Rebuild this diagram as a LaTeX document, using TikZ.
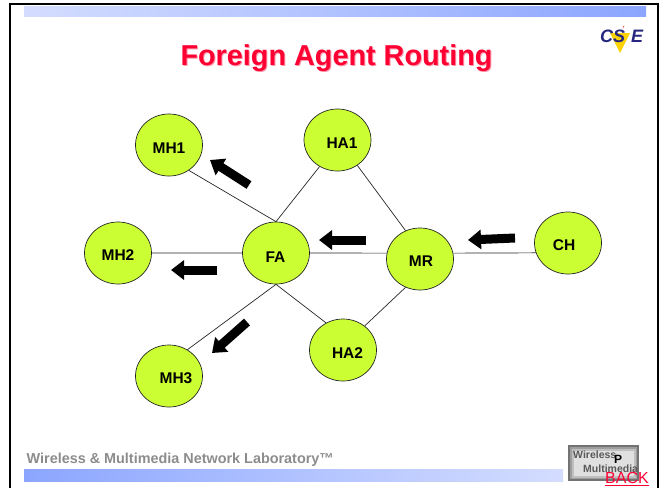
\documentclass[tikz,border=0pt]{standalone}
\usepackage{fontspec}
\setmainfont{Liberation Sans}
\usetikzlibrary{arrows.meta,shapes.geometric}
\definecolor{nodegreen}{HTML}{CCFF33}
\definecolor{barblue}{HTML}{8CA6FF}
\definecolor{barpale}{HTML}{D4DDFF}
\definecolor{titlered}{HTML}{FF0033}
\definecolor{csblue}{HTML}{26267F}
\begin{document}
\begin{tikzpicture}[%
        x=1pt, y=-1pt,
        every node/.style={inner sep=0pt},
        station/.style={ellipse, draw=black!85, fill=nodegreen, line width=.7pt, minimum width=67pt, minimum height=62pt},
        tag/.style={font=\bfseries\fontsize{15.5}{15.5}\selectfont},
        link/.style={draw=black!85, line width=.7pt},
        flow/.style={draw=black, line width=9pt, -{Triangle[length=13pt,width=19pt]}}
      ]
      \useasboundingbox (0,0) rectangle (666,488);
      % slide frame and bars
      \draw [line width=2.5pt] (10,488) -- (10,4) -- (658,4) -- (658,488);
      \shade [left color=barpale, right color=barblue] (24,6) rectangle (646,16);
      \shade [left color=barblue, right color=barpale] (24,469) rectangle (563,481);
      % title
      \node [text=titlered!40, font=\bfseries\fontsize{28.8}{29}\selectfont] at (337.5,59) {Foreign Agent Routing};
      \node (title) [text=titlered, font=\bfseries\fontsize{28.8}{29}\selectfont] at (336.5,58) {Foreign Agent Routing};
      % stations
      \node [station] (MH1) at (169,145) {};
      \node [station] (HA1) at (337.5,140) {};
      \node [station] (MH2) at (118,253) {};
      \node [station] (FA) at (276,253) {};
      \node [station] (MR) at (420,259) {};
      \node [station] (CH) at (568,243) {};
      \node [station] (HA2) at (343,350) {};
      \node [station] (MH3) at (169,376) {};
      \node [tag] (tMH1) at (169,148) {MH1};
      \node [tag] (tHA1) at (342,143) {HA1};
      \node [tag] (tMH2) at (118,255) {MH2};
      \node [tag] (tFA) at (275.5,257) {FA};
      \node [tag] (tMR) at (421,261) {MR};
      \node [tag] (tCH) at (564,245) {CH};
      \node [tag] (tHA2) at (347.5,353) {HA2};
      \node [tag] (tMH3) at (176,378) {MH3};
      % links
      \path [link] (MH1.-52) -- (FA.north)
      (HA1.-124) -- (FA.north)
      (HA1.-52) -- (MR.117)
      (MH2.east) -- (FA.west)
      (FA.east) -- (MR.170)
      (MR.10) -- (CH.197)
      (FA.south) -- (MH3.55)
      (FA.south) -- (HA2.122)
      (HA2.48) -- (MR.-117);
      % flow arrows
      \coordinate (a1) at (249,185); \coordinate (b1) at (210,160);
      \coordinate (a2) at (366,240); \coordinate (b2) at (319,240);
      \coordinate (a3) at (217,270); \coordinate (b3) at (171,270);
      \coordinate (a4) at (247,322); \coordinate (b4) at (212,353);
      \coordinate (a5) at (515,238); \coordinate (b5) at (468,240);
      \draw [flow] (a1) -- (b1);
      \draw [flow] (a2) -- (b2);
      \draw [flow] (a3) -- (b3);
      \draw [flow] (a4) -- (b4);
      \draw [flow] (a5) -- (b5);
      % CSIE logo
      \fill [yellow!70!orange] (610,33) -- (630,33) -- (620,53) -- cycle;
      \node (csie) [text=csblue, font=\bfseries\itshape\fontsize{18}{18}\selectfont] at (621.5,36) {CS\hspace{6pt}E};
      \node (tick) [text=red!60, font=\bfseries\itshape\fontsize{9}{9}\selectfont] at (623,29) {'};
      % footer
      \node (lab) [anchor=west, text=black!45, font=\bfseries\fontsize{14.4}{14.4}\selectfont] at (26.5,460) {Wireless \& Multimedia Network Laboratory™};
      \node (logo) [fill=black!55, minimum width=71pt, minimum height=36pt] at (603.5,463) {};
      \node (logomid) [fill=black!38, minimum width=67pt, minimum height=32pt] at (603.5,463) {};
      \node (logoinner) [fill=black!25, minimum width=64pt, minimum height=29pt] at (603.5,463) {};
      \node (logoin) [fill=black!12, minimum width=60pt, minimum height=25pt] at (603.5,463) {};
      \node (wl) [anchor=west, text=black!65, font=\bfseries\fontsize{10.5}{10.5}\selectfont] at (573,455) {Wireless};
      \node (pp) [anchor=west, text=black, font=\bfseries\fontsize{12}{12}\selectfont] at (614,459) {P};
      \node (mm) [anchor=west, text=black!65, font=\bfseries\fontsize{10.5}{10.5}\selectfont] at (583,469) {Multimedia};
      \node (back) [text=titlered, font=\fontsize{16}{16}\selectfont] at (627,479) {\underline{BACK}};
    \end{tikzpicture}
\end{document}
